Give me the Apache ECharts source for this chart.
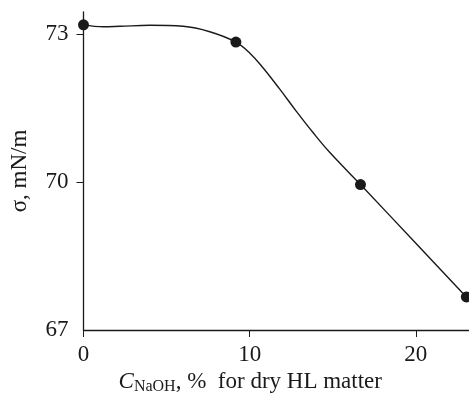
<!DOCTYPE html>
<html lang="en">
  <head>
    <meta charset="UTF-8" />
    <title>surface tension vs NaOH</title>
    <style>
      html, body { margin: 0; padding: 0; background: #fff; }
      #main { width: 469px; height: 393px; }
    </style>
  </head>
  <body>
    <div id="main"></div>
    <script src="https://cdn.jsdelivr.net/npm/echarts@6/dist/echarts.min.js"></script>
    <script>
      const myChart = echarts.init(document.getElementById('main'))

      // measured points (markers)
      var pointX = [0, 9.17, 16.67, 23.04]
      var pointY = [73.19, 72.84, 69.95, 67.67]
      // fitted curve
      var curveX = [0, 1.2, 2.2, 4.0, 6.0, 7.6, 9.17, 10.0, 10.8, 11.8, 12.8, 13.8, 14.8, 16.67, 20, 23.04]
      var curveY = [73.19, 73.15, 73.16, 73.18, 73.16, 73.05, 72.84, 72.62, 72.32, 71.89, 71.44, 71.01, 70.61, 69.95, 68.76, 67.67]
      // tick labels
      var xTicks = [0, 10, 20]
      var yTicks = [67, 70, 73]

      var ink = '#1a1a1a'
      var serif = 'Liberation Serif'

      var option = {
        backgroundColor: '#fff',
        animation: false,
        grid: { left: 83.5, right: 0, top: 12, bottom: 63, containLabel: false, outerBoundsMode: 'none' },
        xAxis: {
          type: 'value',
          min: 0,
          max: 23.2,
          name: '{i|C}{sub|NaOH}{n|, %  for dry HL matter}',
          nameLocation: 'middle',
          nameGap: 38,
          nameTextStyle: {
            padding: [0, 52, 0, 0],
            rich: {
              i: { fontFamily: serif, fontStyle: 'italic', fontSize: 23, color: ink },
              sub: { fontFamily: serif, fontSize: 16, color: ink, padding: [9, 0, 0, 0] },
              n: { fontFamily: serif, fontSize: 23, color: ink }
            }
          },
          axisLine: { onZero: false, lineStyle: { color: ink, width: 1.3 } },
          axisTick: { show: true, length: 7, inside: false, customValues: xTicks, lineStyle: { color: ink } },
          axisLabel: { customValues: xTicks, margin: 13, fontFamily: serif, fontSize: 23, color: ink },
          splitLine: { show: false }
        },
        yAxis: {
          type: 'value',
          min: 67,
          max: 73.45,
          name: 'σ, mN/m',
          nameLocation: 'middle',
          nameGap: 52,
          nameRotate: 90,
          nameTextStyle: { fontFamily: serif, fontSize: 23, color: ink },
          axisLine: { onZero: false, lineStyle: { color: ink, width: 1.3 } },
          axisTick: { show: true, length: 7, inside: false, customValues: [70, 73], lineStyle: { color: ink } },
          axisLabel: { customValues: yTicks, margin: 15, fontFamily: serif, fontSize: 23, color: ink },
          splitLine: { show: false }
        },
        series: [
          {
            name: 'curve',
            type: 'line',
            smooth: 0.4,
            showSymbol: false,
            data: curveX.map(function (x, i) { return [x, curveY[i]] }),
            lineStyle: { color: ink, width: 1.4 }
          },
          {
            name: 'points',
            type: 'scatter',
            symbol: 'circle',
            symbolSize: 11,
            clip: false,
            data: pointX.map(function (x, i) { return [x, pointY[i]] }),
            itemStyle: { color: ink, opacity: 1 }
          }
        ]
      }

      myChart.setOption(option)
    </script>
  </body>
</html>
